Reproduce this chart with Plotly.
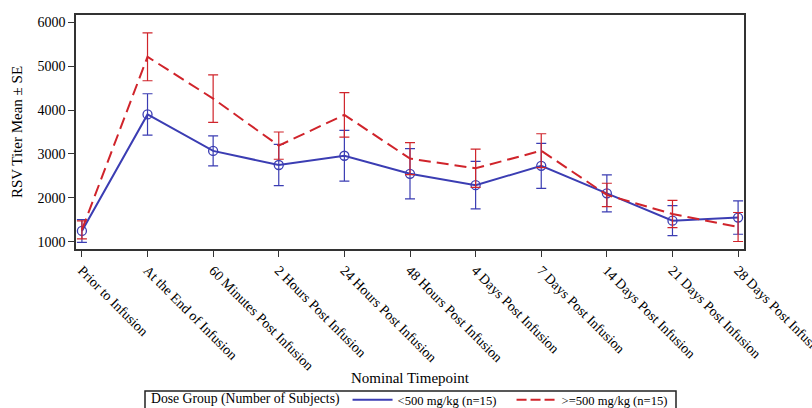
import plotly.graph_objects as go

timepoints = ["Prior to Infusion", "At the End of Infusion", "60 Minutes Post Infusion",
              "2 Hours Post Infusion", "24 Hours Post Infusion", "48 Hours Post Infusion",
              "4 Days Post Infusion", "7 Days Post Infusion", "14 Days Post Infusion",
              "21 Days Post Infusion", "28 Days Post Infusion"]
low_mean = [1250, 3900, 3070, 2750, 2960, 2550, 2290, 2730, 2105, 1485, 1555]
low_se = [260, 470, 340, 470, 575, 570, 540, 510, 420, 340, 380]
high_mean = [1275, 5210, 4260, 3190, 3890, 2895, 2675, 3075, 2070, 1636, 1340]
high_se = [205, 545, 540, 310, 505, 365, 435, 385, 265, 310, 330]

BLUE = "#3B3DB3"
RED = "#D0242B"
FONT = "Liberation Serif"

W, H = 812, 408
L, R, T, B = 76, 68, 15, 159
PW, PH = W - L - R, H - T - B

x = list(range(len(timepoints)))

fig = go.Figure()
fig.add_trace(go.Scatter(
    x=x, y=low_mean, mode="lines+markers", name="<500 mg/kg (n=15)", showlegend=False,
    line=dict(color=BLUE, width=2),
    marker=dict(symbol="circle-open", size=9, color=BLUE, line=dict(width=1.3)),
    error_y=dict(type="data", array=low_se, visible=True, color=BLUE, thickness=1.2, width=5),
))
fig.add_trace(go.Scatter(
    x=x, y=high_mean, mode="lines", name=">=500 mg/kg (n=15)", showlegend=False,
    line=dict(color=RED, width=2, dash="12px,6px"),
    error_y=dict(type="data", array=high_se, visible=True, color=RED, thickness=1.2, width=5),
))
# legend-only entries (line samples without markers)
fig.add_trace(go.Scatter(x=[None], y=[None], mode="lines", name="<500 mg/kg (n=15)",
                         line=dict(color=BLUE, width=2)))
fig.add_trace(go.Scatter(x=[None], y=[None], mode="lines", name=">=500 mg/kg (n=15)",
                         line=dict(color=RED, width=2, dash="10px,4px")))

fig.update_layout(
    width=W, height=H,
    margin=dict(l=L, r=R, t=T, b=B),
    paper_bgcolor="white", plot_bgcolor="white",
    font=dict(family=FONT, size=14, color="black"),
    showlegend=True,
    legend=dict(
        orientation="h", x=(145 + 4) / W, xanchor="left", xref="container",
        y=(H - 400) / H, yanchor="middle", yref="container",
        borderwidth=0, bgcolor="rgba(0,0,0,0)",
        title=dict(text="Dose Group (Number of Subjects)", font=dict(family=FONT, size=13.7)),
        font=dict(family=FONT, size=12.6),
        itemwidth=40, tracegroupgap=0, entrywidth=109,
    ),
    xaxis=dict(
        tickmode="array", tickvals=x, ticktext=timepoints, tickangle=45,
        range=[-0.09, 10.09], automargin=False, ticklabeloverflow="allow",
        showline=True, linecolor="#333333", linewidth=1.5, mirror=True,
        ticks="outside", ticklen=6, tickcolor="#333333", tickwidth=1.2,
        showgrid=False, zeroline=False,
        tickfont=dict(family=FONT, size=14),
    ),
    yaxis=dict(
        range=[840, 6160], tickvals=[1000, 2000, 3000, 4000, 5000, 6000],
        automargin=False,
        showline=True, linecolor="#333333", linewidth=1.5, mirror=True,
        ticks="outside", ticklen=6, tickcolor="#333333", tickwidth=1.2,
        showgrid=False, zeroline=False,
        title=dict(text="RSV Titer Mean ± SE", font=dict(family=FONT, size=15), standoff=11),
        tickfont=dict(family=FONT, size=14),
    ),
    annotations=[dict(
        text="Nominal Timepoint", xref="paper", yref="paper", x=0.5,
        y=-(378 - (H - B)) / PH, xanchor="center", yanchor="middle", showarrow=False,
        font=dict(family=FONT, size=15),
    )],
    shapes=[dict(
        type="rect", xref="paper", yref="paper",
        x0=(145 - L) / PW, x1=(676 - L) / PW,
        y0=-(412 - (H - B)) / PH, y1=-(391 - (H - B)) / PH,
        line=dict(color="#222222", width=1.5), fillcolor="rgba(0,0,0,0)",
    )],
)

fig.write_html("out.html", config={"displayModeBar": False},
               post_script="document.body.style.margin='0';")
